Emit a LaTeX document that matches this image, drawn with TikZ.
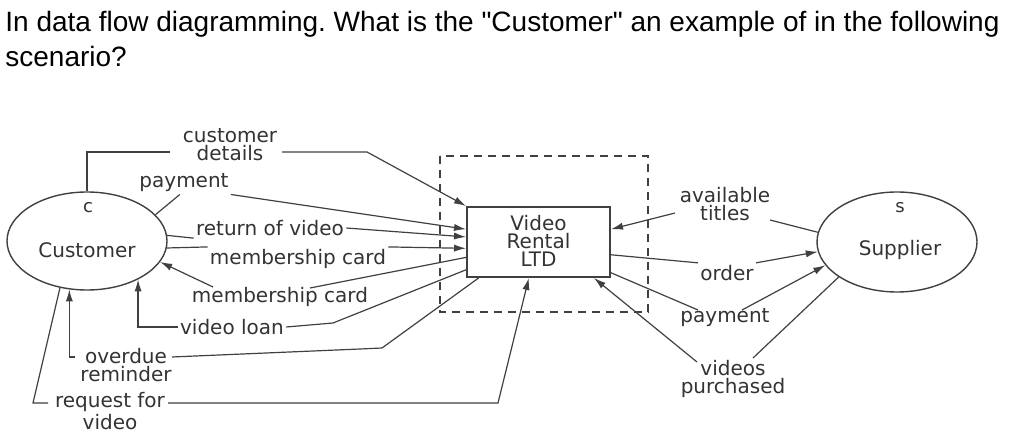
\documentclass[tikz,border=0pt]{standalone}
\usepackage{fontspec}
\setmainfont{Liberation Sans}[Ligatures=TeXOff]
\newfontfamily\dfd{DejaVu Sans}
\usetikzlibrary{arrows.meta,shapes.geometric}
\frenchspacing

\begin{document}
\begin{tikzpicture}[x=0.5pt,y=-0.5pt,
    flow/.style={draw=black!75,line width=0.6pt},
    arr/.style={flow,-{Latex[length=6pt,width=3.6pt]}},
    lbl/.style={font=\fontsize{10}{9}\selectfont\dfd,text=black!80,inner sep=1pt,align=center},
    ent/.style={ellipse,draw=black!75,line width=0.7pt,minimum width=80pt,minimum height=49pt,inner sep=0pt},
    proc/.style={rectangle,draw=black!75,line width=1pt,minimum width=71.5pt,minimum height=35pt,inner sep=0pt}]
            \useasboundingbox (0,0) rectangle (1033,448);
            \node[anchor=base west,font=\fontsize{14}{17}\selectfont,inner sep=0pt] (q1) at (5,32)
                {In data flow diagramming. What is the "Customer" an example of in the following};
            \node[anchor=base west,font=\fontsize{14}{17}\selectfont,inner sep=0pt] (q2) at (5,67) {scenario?};

            \draw[black!75,line width=0.8pt,dash pattern=on 4pt off 3pt] (440,156) rectangle (648,312);
            \node[ent] (cust) at (87,241) {};
            \node[lbl,font=\fontsize{9}{9}\selectfont\dfd] (custId) at (88,208) {c};
            \node[lbl] (custName) at (87,250) {Customer};
            \node[ent,minimum height=50pt] (sup) at (897,242) {};
            \node[lbl,font=\fontsize{9}{9}\selectfont\dfd] (supId) at (900,208) {s};
            \node[lbl] (supName) at (900,250) {Supplier};
            \node[proc] (vrl) at (538.5,242) {};
            \node[lbl] (vrlName) at (538.5,241) {Video\\Rental\\LTD};

            \node[lbl] (lDetails) at (230,145) {customer\\details};
            \node[lbl] (lPay1) at (184,183) {payment};
            \node[lbl] (lReturn) at (270,228) {return of video};
            \node[lbl] (lCardIn) at (298,259) {membership card};
            \node[lbl] (lCardOut) at (280,297) {membership card};
            \node[lbl] (lLoan) at (232,327) {video loan};
            \node[lbl] (lOverdue) at (126,365) {overdue\\reminder};
            \node[lbl] (lRequest) at (110,411) {request for\\video};
            \node[lbl] (lTitles) at (725,204) {available\\titles};
            \node[lbl] (lOrder) at (727,273) {order};
            \node[lbl] (lPay2) at (725,318) {payment};
            \node[lbl] (lPurch) at (733,379) {videos\\purchased};

            \coordinate (dL) at (170,152);
            \coordinate (dR) at (282,152);
            \coordinate (dK) at (367,152);
            \coordinate (coA) at (310,288);
            \coordinate (coB) at (213,287);
            \coordinate (lnA) at (333,323);
            \coordinate (odA) at (382,348);
            \coordinate (odB) at (360,349);
            \coordinate (odR) at (172,357);
            \coordinate (odL) at (75,357);
            \coordinate (rqA) at (33,403);
            \coordinate (rqB) at (48,403);
            \coordinate (rqC) at (168,403);
            \coordinate (rqD) at (498,403);
            \coordinate (ttA) at (770,220);
            \coordinate (ttB) at (675,213);
            \coordinate (pyA) at (698,310);
            \coordinate (pyB) at (742,310);
            \coordinate (puA) at (753,358);
            \coordinate (puB) at (697,362);

            \draw[flow] (cust.north) |- (dL);
            \draw[arr] (dR) -- (dK) -- (vrl.north west);
            \draw[flow] (cust.21) -- (lPay1.250);
            \draw[arr] (lPay1.south east) -- (vrl.170);
            \draw[flow] (cust.4) -- (lReturn.south west);
            \draw[arr] (lReturn.east) -- (vrl.176);
            \draw[flow] (cust.-5) -- (lCardIn.north west);
            \draw[arr] (lCardIn.north east) -- (vrl.185);
            \draw[flow] (vrl.192) -- (coA);
            \draw[arr] (coB) -- (cust.-16);
            \draw[flow] (vrl.201) -- (lnA) -- (lLoan.east);
            \draw[arr] (lLoan.west) -| (cust.-37);
            \draw[flow] (vrl.211) -- (odA) -- (odB) -- (odR);
            \draw[arr] (odL) -| (cust.250);
            \draw[flow] (cust.240) -- (rqA) -- (rqB);
            \draw[arr] (rqC) -- (rqD) -- (vrl.255);

            \draw[flow] (sup.173) -- (ttA);
            \draw[arr] (ttB) -- (vrl.10);
            \draw[flow] (vrl.-10) -- (lOrder.north west);
            \draw[arr] (lOrder.north east) -- (sup.187);
            \draw[flow] (vrl.-23) -- (pyA);
            \draw[arr] (pyB) -- (sup.198);
            \draw[flow] (sup.211) -- (puA);
            \draw[arr] (puB) -- (vrl.-33);
        \end{tikzpicture}
\end{document}
